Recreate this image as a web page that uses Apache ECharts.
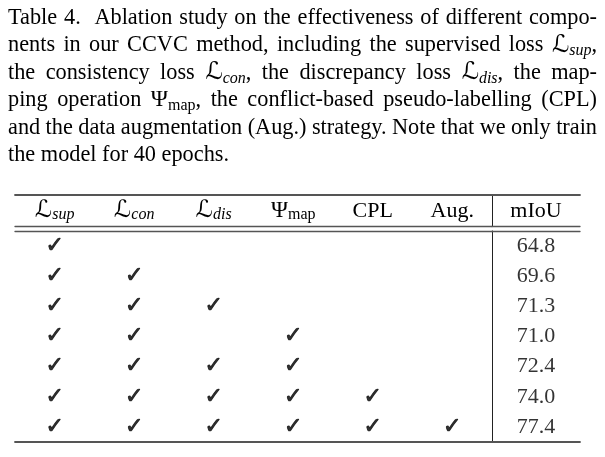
<!DOCTYPE html>
<html><head><meta charset="utf-8">
<script src="https://cdn.jsdelivr.net/npm/echarts@6/dist/echarts.min.js"></script>
<style>html,body{margin:0;padding:0;background:#fff}#c{width:605px;height:457px}</style>
</head><body><div id="c"></div>
<script>
// ---- data ----
const captionLines = [
  'Table 4.  Ablation study on the effectiveness of different compo-',
  'nents in our CCVC method, including the supervised loss ℒ_{sup},',
  'the consistency loss ℒ_{con}, the discrepancy loss ℒ_{dis}, the map-',
  'ping operation Ψ_[map], the conflict-based pseudo-labelling (CPL)',
  'and the data augmentation (Aug.) strategy. Note that we only train',
  'the model for 40 epochs.'
];
const componentKeys = ['sup', 'con', 'dis', 'map', 'CPL', 'Aug.'];
const metricName = 'mIoU';
const rowIds = ['r1', 'r2', 'r3', 'r4', 'r5', 'r6', 'r7'];
const checks = [
  [1, 0, 0, 0, 0, 0],
  [1, 1, 0, 0, 0, 0],
  [1, 1, 1, 0, 0, 0],
  [1, 1, 0, 1, 0, 0],
  [1, 1, 1, 1, 0, 0],
  [1, 1, 1, 1, 1, 0],
  [1, 1, 1, 1, 1, 1]
];
const miou = [64.8, 69.6, 71.3, 71.0, 72.4, 74.0, 77.4];

// ---- styles ----
const SERIF = "'Liberation Serif'";
const MATHL = "'DejaVu Sans'";
const CHECK_FONT = "'DejaVu Sans'";

function makeRich(lh, subLh, fs) {
  return {
    n: {fontFamily: SERIF, fontSize: fs, lineHeight: lh, color: '#000'},
    L: {fontFamily: MATHL, fontSize: fs + 2, lineHeight: lh, color: '#000'},
    P: {fontFamily: SERIF, fontSize: fs + 1, lineHeight: lh, color: '#000'},
    si: {fontFamily: SERIF, fontSize: 16, fontStyle: 'italic', lineHeight: subLh, verticalAlign: 'bottom', color: '#000'},
    sr: {fontFamily: SERIF, fontSize: 16, lineHeight: subLh, verticalAlign: 'bottom', color: '#000'}
  };
}

const cv = document.createElement('canvas').getContext('2d');
function measure(style, text) {
  cv.font = (style.fontStyle || 'normal') + ' normal ' + style.fontSize + 'px ' + style.fontFamily;
  return cv.measureText(text).width;
}
function parseWord(w) {
  const segs = [];
  const re = /(ℒ)_\{(\w+)\}|(Ψ)_\[(\w+)\]/g;
  let last = 0, m;
  while ((m = re.exec(w))) {
    if (m.index > last) segs.push(['n', w.slice(last, m.index)]);
    if (m[1]) segs.push(['L', 'ℒ'], ['si', m[2]]);
    else segs.push(['P', 'Ψ'], ['sr', m[4]]);
    last = re.lastIndex;
  }
  if (last < w.length) segs.push(['n', w.slice(last)]);
  return segs;
}
const segStr = segs => segs.map(s => '{' + s[0] + '|' + s[1] + '}').join('');

const CAP_LH = 27.5;
const CAP_FS = 22.3;
const capRich = makeRich(CAP_LH, 18, CAP_FS);
const CAP_WIDTH = 589;
const capText = captionLines.map((line, i) => {
  const words = line.split(' ').map(parseWord);
  if (i === captionLines.length - 1) {
    return words.map(segStr).join('{n| }');
  }
  let W = 0;
  words.forEach(ws => ws.forEach(s => { W += measure(capRich[s[0]], s[1]); }));
  const gap = (CAP_WIDTH - W) / (words.length - 1);
  capRich['g' + i] = {fontFamily: SERIF, fontSize: CAP_FS, lineHeight: CAP_LH, width: gap};
  return words.map(segStr).join('{g' + i + '| }');
}).join('\n');

const headRich = makeRich(24, 15, 22);
function headFmt(v) {
  if (v === 'sup' || v === 'con' || v === 'dis') return '{L|ℒ}{si|' + v + '}';
  if (v === 'map') return '{P|Ψ}{sr|map}';
  return '{n|' + v + '}';
}

const RULE = '#555';
function hAxis(grid, pos, cats, width, withLabel) {
  return {
    type: 'category', gridIndex: grid, position: pos, data: cats,
    axisLine: {show: true, onZero: false, lineStyle: {color: RULE, width: width}},
    axisTick: {show: false}, splitLine: {show: false},
    axisLabel: withLabel ? {
      show: true, inside: true, margin: 3, interval: 0,
      formatter: headFmt, rich: headRich, color: '#000'
    } : {show: false}
  };
}
function vAxis(grid, cats, showLine) {
  return {
    type: 'category', gridIndex: grid, data: cats, inverse: true,
    axisLine: {show: showLine, onZero: false, lineStyle: {color: '#222', width: 1}},
    axisTick: {show: false}, axisLabel: {show: false}, splitLine: {show: false}
  };
}

const checkData = [];
checks.forEach((row, r) => row.forEach((v, c) => { if (v) checkData.push([c, r]); }));

const chart = echarts.init(document.getElementById('c'), null, {renderer: 'canvas'});
chart.setOption({
  animation: false,
  backgroundColor: '#fff',
  title: {
    text: capText, left: 8, top: 4, padding: 0,
    textStyle: {rich: capRich, fontFamily: SERIF, fontSize: CAP_FS, fontWeight: 'normal', color: '#000', lineHeight: CAP_LH}
  },
  grid: [
    {left: 15, width: 477, top: 195, height: 31},
    {left: 492, width: 88, top: 195, height: 31},
    {left: 15, width: 477, top: 231, height: 211},
    {left: 492, width: 88, top: 231, height: 211}
  ],
  xAxis: [
    hAxis(0, 'top', componentKeys, 1.8, false),
    hAxis(0, 'bottom', componentKeys, 1.3, true),
    hAxis(1, 'top', [metricName], 1.8, false),
    hAxis(1, 'bottom', [metricName], 1.3, true),
    hAxis(2, 'top', componentKeys, 1.3, false),
    hAxis(2, 'bottom', componentKeys, 1.8, false),
    hAxis(3, 'top', [metricName], 1.3, false),
    hAxis(3, 'bottom', [metricName], 1.8, false)
  ],
  yAxis: [
    vAxis(0, ['head'], false),
    vAxis(1, ['head'], true),
    vAxis(2, rowIds, false),
    vAxis(3, rowIds, true)
  ],
  series: [
    {
      type: 'scatter', xAxisIndex: 5, yAxisIndex: 2, data: checkData,
      symbolSize: 1, itemStyle: {color: 'rgba(0,0,0,0)'},
      label: {show: true, position: 'inside', formatter: '✓', fontFamily: CHECK_FONT, fontSize: 22, color: '#000',
        textBorderColor: '#000', textBorderWidth: 0.9}
    },
    {
      type: 'scatter', xAxisIndex: 7, yAxisIndex: 3,
      data: miou.map((v, i) => [0, i, v]),
      symbolSize: 1, itemStyle: {color: 'rgba(0,0,0,0)'},
      label: {show: true, position: 'inside', formatter: p => p.value[2].toFixed(1), fontFamily: SERIF, fontSize: 22, color: '#000'}
    }
  ]
});
</script></body></html>
